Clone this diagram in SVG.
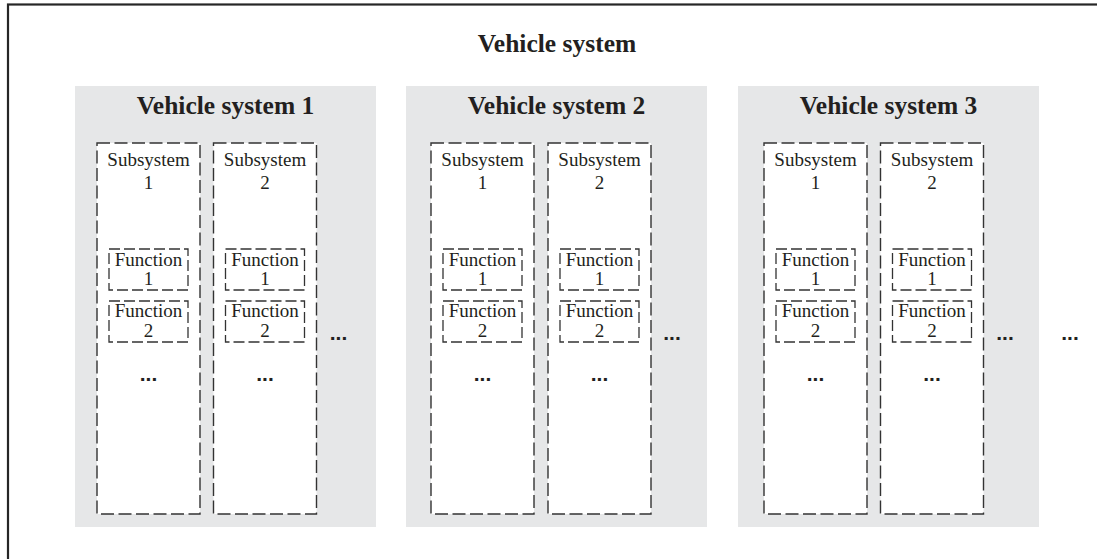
<svg xmlns="http://www.w3.org/2000/svg" width="1097" height="559" viewBox="0 0 1097 559">
  <style>
    .frame { fill: #ffffff; stroke: #262626; stroke-width: 2.2; }
    .panel { fill: #e6e7e8; stroke: none; }
    .sub { fill: #ffffff; stroke: #333333; stroke-width: 1.4; stroke-dasharray: 13 4.5; }
    .fn { fill: #ffffff; stroke: #333333; stroke-width: 1.3; stroke-dasharray: 11 4; }
    .title { font-family: "Liberation Serif", "DejaVu Serif", serif; font-weight: bold; font-size: 25.5px; fill: #231f20; text-anchor: middle; }
    .label { font-family: "Liberation Serif", "DejaVu Serif", serif; font-size: 19px; fill: #231f20; text-anchor: middle; }
    .dots { font-family: "Liberation Sans", Arial, sans-serif; font-weight: bold; font-size: 21px; fill: #231f20; text-anchor: middle; }
  </style>
  <defs>
    <!-- one subsystem column with its two functions, origin at the column's top-left corner -->
    <g id="subsystem-body">
      <rect class="fn" x="12" y="106" width="79" height="41"/>
      <text class="label" x="51.5" y="123">Function</text>
      <rect class="fn" x="12" y="158" width="79" height="41"/>
      <text class="label" x="51.5" y="174">Function</text>
      <text class="dots" x="51.5" y="238">...</text>
    </g>
  </defs>

  <!-- outer vehicle system frame, running past the right and bottom edges -->
  <g id="vehicle-system">
    <rect class="frame" x="8" y="4.5" width="1110" height="570"/>
    <text class="title" x="557" y="52">Vehicle system</text>
  </g>

  <!-- Vehicle system 1 -->
  <g id="vehicle-system-1">
    <rect class="panel" x="75" y="86" width="301" height="441"/>
    <text class="title" x="225.5" y="114">Vehicle system 1</text>
    <g id="vs1-subsystem-1" transform="translate(97 143)">
      <rect class="sub" x="0" y="0" width="103" height="371"/>
      <text class="label" x="51.5" y="23">Subsystem</text>
      <text class="label" x="51.5" y="46">1</text>
      <use href="#subsystem-body"/>
      <text class="label" x="51.5" y="142">1</text>
      <text class="label" x="51.5" y="194">2</text>
    </g>
    <g id="vs1-subsystem-2" transform="translate(213.5 143)">
      <rect class="sub" x="0" y="0" width="103" height="371"/>
      <text class="label" x="51.5" y="23">Subsystem</text>
      <text class="label" x="51.5" y="46">2</text>
      <use href="#subsystem-body"/>
      <text class="label" x="51.5" y="142">1</text>
      <text class="label" x="51.5" y="194">2</text>
    </g>
    <text class="dots" x="338.5" y="340">...</text>
  </g>

  <!-- Vehicle system 2 -->
  <g id="vehicle-system-2">
    <rect class="panel" x="406" y="86" width="301" height="441"/>
    <text class="title" x="556.5" y="114">Vehicle system 2</text>
    <g id="vs2-subsystem-1" transform="translate(431 143)">
      <rect class="sub" x="0" y="0" width="103" height="371"/>
      <text class="label" x="51.5" y="23">Subsystem</text>
      <text class="label" x="51.5" y="46">1</text>
      <use href="#subsystem-body"/>
      <text class="label" x="51.5" y="142">1</text>
      <text class="label" x="51.5" y="194">2</text>
    </g>
    <g id="vs2-subsystem-2" transform="translate(548 143)">
      <rect class="sub" x="0" y="0" width="103" height="371"/>
      <text class="label" x="51.5" y="23">Subsystem</text>
      <text class="label" x="51.5" y="46">2</text>
      <use href="#subsystem-body"/>
      <text class="label" x="51.5" y="142">1</text>
      <text class="label" x="51.5" y="194">2</text>
    </g>
    <text class="dots" x="672" y="340">...</text>
  </g>

  <!-- Vehicle system 3 -->
  <g id="vehicle-system-3">
    <rect class="panel" x="738" y="86" width="301" height="441"/>
    <text class="title" x="888.5" y="114">Vehicle system 3</text>
    <g id="vs3-subsystem-1" transform="translate(764 143)">
      <rect class="sub" x="0" y="0" width="103" height="371"/>
      <text class="label" x="51.5" y="23">Subsystem</text>
      <text class="label" x="51.5" y="46">1</text>
      <use href="#subsystem-body"/>
      <text class="label" x="51.5" y="142">1</text>
      <text class="label" x="51.5" y="194">2</text>
    </g>
    <g id="vs3-subsystem-2" transform="translate(880.5 143)">
      <rect class="sub" x="0" y="0" width="103" height="371"/>
      <text class="label" x="51.5" y="23">Subsystem</text>
      <text class="label" x="51.5" y="46">2</text>
      <use href="#subsystem-body"/>
      <text class="label" x="51.5" y="142">1</text>
      <text class="label" x="51.5" y="194">2</text>
    </g>
    <text class="dots" x="1005" y="340">...</text>
  </g>

  <text class="dots" x="1070" y="340">...</text>

  <!-- no connectors in this diagram -->
  <g id="connectors"/>
</svg>
